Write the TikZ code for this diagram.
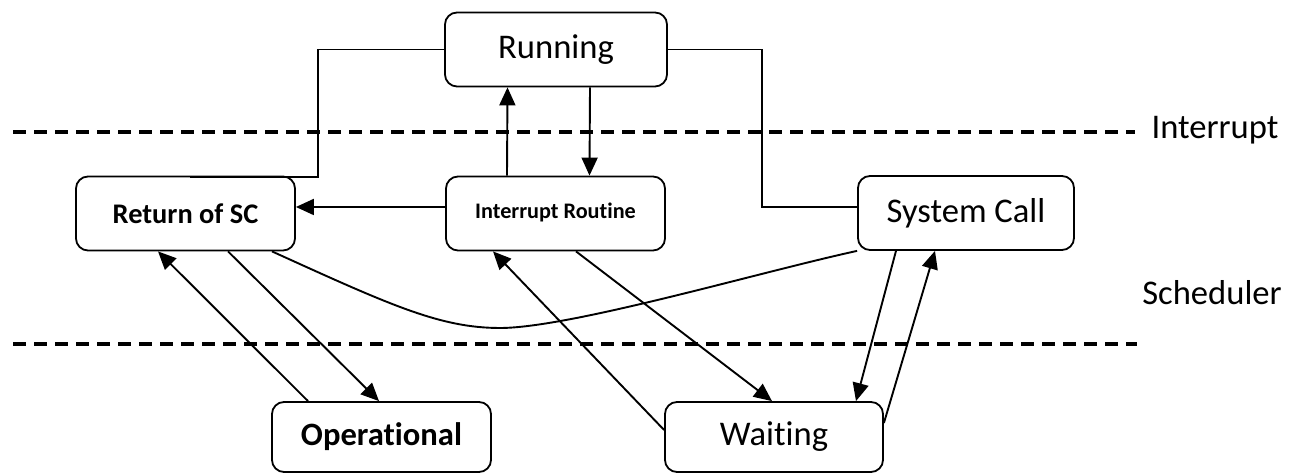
\documentclass[tikz,border=0pt]{standalone}
\usepackage{fontspec}
\setmainfont{Carlito}[Ligatures=NoCommon]
\usetikzlibrary{arrows.meta}

\begin{document}
\begin{tikzpicture}[x=0.5pt,y=-0.5pt,>={Triangle[length=9pt,width=8pt]},
  state/.style={draw,rounded corners=6pt,line width=0.9pt,minimum height=37pt,inner sep=0pt,font=\fontsize{17.3}{20}\selectfont},
  lbl/.style={inner sep=0pt,font=\fontsize{17.3}{20}\selectfont},
  link/.style={line width=0.95pt},
  layer/.style={line width=2.2pt,dash pattern=on 6.5pt off 4pt}]
  \useasboundingbox (0,0) rectangle (1303,474);
  % states
  \node[state,minimum width=111pt] (run) at (556,49.5) {Running};
  \node[state,minimum width=109.5pt,font=\bfseries\fontsize{14.2}{16}\selectfont] (rsc) at (185.5,213.5) {Return of SC};
  \node[state,minimum width=109.5pt,font=\bfseries\fontsize{11.1}{13}\selectfont] (irt) at (555.5,213.5) {\raisebox{3pt}{Interrupt Routine}};
  \node[state,minimum width=108pt] (sys) at (966,213) {System Call};
  \node[state,minimum width=109.5pt,minimum height=35pt,font=\bfseries\fontsize{16.3}{19}\selectfont] (opr) at (381.5,437) {Operational};
  \node[state,minimum width=109pt,minimum height=35pt] (wai) at (774,437) {Waiting};
  % layers
  \node[lbl] (intl) at (1215,130) {Interrupt};
  \node[lbl] (schl) at (1212,293) {Scheduler};
  \draw[layer] (13,132) -- (1135,132);
  \draw[layer] (13,344) -- (1137,344);
  % plain links
  \coordinate (rk) at (318,177);
  \coordinate (rj) at (190,177);
  \coordinate (sk) at (762,207);
  \draw[link] (run.west) -| (rk) -- (rj);
  \draw[link] (run.east) -| (sk) -- ([yshift=3pt]sys.west);
  \draw[link] ([xshift=43.25pt]rsc.south) .. controls (390,305) and (440,328) .. (500,328)
    .. controls (570,328) and (760,272) .. (sys.south west);
  % transitions
  \draw[link,->] ([xshift=-24.25pt]irt.north) -- ([xshift=-24.25pt]run.south);
  \draw[link,->] ([xshift=17pt]run.south) -- ([xshift=17pt]irt.north);
  \draw[link,->] ([yshift=3.25pt]irt.west) -- ([yshift=3.25pt]rsc.east);
  \draw[link,->] ([xshift=-36.75pt]opr.north) -- ([xshift=-13.75pt]rsc.south);
  \draw[link,->] ([xshift=21.25pt]rsc.south) -- ([xshift=-1.25pt]opr.north);
  \draw[link,->] ([yshift=3.5pt]wai.west) -- ([xshift=-31.25pt]irt.south);
  \draw[link,->] ([xshift=10.25pt]irt.south) -- ([xshift=-1pt]wai.north);
  \draw[link,->] ([xshift=-35pt]sys.south) -- ([xshift=41pt]wai.north);
  \draw[link,->] ([yshift=7pt]wai.east) -- ([xshift=-15.5pt]sys.south);
\end{tikzpicture}
\end{document}
